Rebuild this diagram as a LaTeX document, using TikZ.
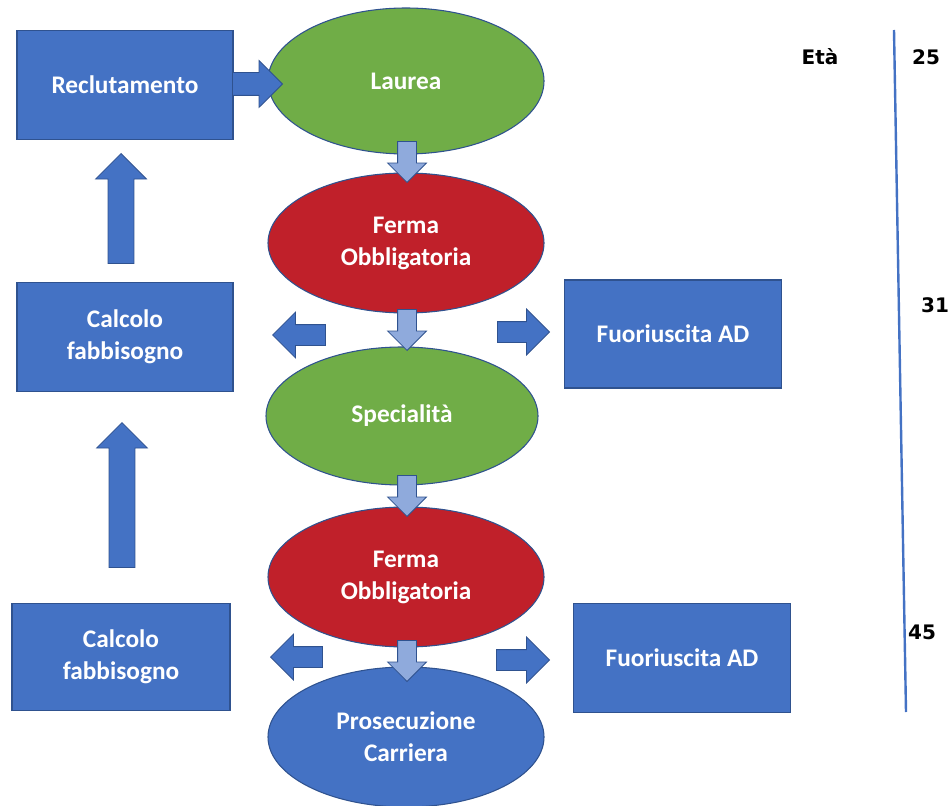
\documentclass[tikz,border=0pt]{standalone}
\usepackage{fontspec}
\setmainfont{Carlito}
\newfontfamily\agefont{DejaVu Sans}
\usetikzlibrary{shapes.geometric,shapes.arrows}

\definecolor{boxblue}{HTML}{4472C4}
\definecolor{edgeblue}{HTML}{2F528F}
\definecolor{ovalgreen}{HTML}{70AD47}
\definecolor{ovalred}{HTML}{C0202A}
\definecolor{lightblue}{HTML}{8FAADC}

\tikzset{
  box/.style={rectangle, draw=edgeblue, fill=boxblue, line width=0.8pt, text=white,
    font=\bfseries\fontsize{19}{24}\selectfont, align=center,
    minimum width=162pt, minimum height=82pt, inner sep=0pt},
  oval/.style={ellipse, draw=edgeblue, line width=0.8pt, text=white,
    font=\bfseries\fontsize{19}{24}\selectfont, align=center,
    minimum width=207pt, minimum height=105pt, inner sep=0pt},
  bigarrow/.style={single arrow, draw=edgeblue, fill=boxblue, line width=0.6pt,
    inner xsep=0pt, inner ysep=7.5pt, single arrow head extend=9.4pt, anchor=tip},
  smallarrow/.style={single arrow, draw=edgeblue, fill=lightblue, line width=0.6pt,
    inner xsep=0pt, inner ysep=6.75pt, minimum height=30.75pt,
    single arrow head extend=7.5pt, anchor=tip},
  agelabel/.style={font=\agefont\bfseries\fontsize{15}{18}\selectfont}
}

\begin{document}
\begin{tikzpicture}[x=0.75pt,y=-0.75pt]
\useasboundingbox (0,0) rectangle (950,806);

    % left column
    \node[box] (rec)   at (125,85)  {Reclutamento};
    \node[box] (calc1) at (125,337) {Calcolo\\fabbisogno};
    \node[box, minimum width=163.5pt, minimum height=80pt] (calc2) at (121,657) {Calcolo\\fabbisogno};

    % central path
    \node[oval, fill=ovalgreen, minimum height=109.5pt] (lau) at (406,81) {Laurea};
    \node[oval, fill=ovalred]   (fer1) at (406,243) {Ferma\\Obbligatoria};
    \node[oval, fill=ovalgreen, minimum width=204pt, minimum height=103.5pt] (spe) at (402,416) {Specialità};
    \node[oval, fill=ovalred]   (fer2) at (406,577) {Ferma\\Obbligatoria};
    \node[oval, fill=boxblue]   (pro)  at (406,737) {Prosecuzione\\Carriera};

    % right column
    \node[box, minimum width=162.75pt, minimum height=81pt] (fuo1) at (673,334) {Fuoriuscita AD};
    \node[box, minimum width=162.75pt, minimum height=82pt] (fuo2) at (682,658) {Fuoriuscita AD};

    % block arrows (placed by their tips)
    \node[bigarrow, minimum height=37.5pt, inner ysep=8.25pt, single arrow head extend=9pt] (arec) at (283,84) {};
    \node[bigarrow, rotate=90, minimum height=82.5pt, inner ysep=9.4pt] (aup1) at (121,153) {};
    \node[bigarrow, rotate=90, minimum height=108.75pt, inner ysep=9.4pt] (aup2) at (122,422) {};
    \node[bigarrow, rotate=180, minimum height=39.75pt] (al1) at (272,335) {};
    \node[bigarrow, minimum height=39pt] (ar1) at (550,332) {};
    \node[bigarrow, rotate=180, minimum height=39pt] (al2) at (270,657) {};
    \node[bigarrow, minimum height=39.75pt] (ar2) at (550,660) {};

    \node[smallarrow, rotate=-90] (ad1) at (407,183) {};
    \node[smallarrow, rotate=-90] (ad2) at (407,351) {};
    \node[smallarrow, rotate=-90] (ad3) at (407,517) {};
    \node[smallarrow, rotate=-90] (ad4) at (407,682) {};

    % age axis
    \coordinate (top) at (894,30);
    \coordinate (bot) at (906,712);
    \draw[boxblue, line width=1.8pt] (top) -- (bot);
    \node[agelabel] (eta) at (820,57)  {Età};
    \node[agelabel] (e25) at (926,57)  {25};
    \node[agelabel] (e31) at (935,305) {31};
    \node[agelabel] (e45) at (922,632) {45};

\end{tikzpicture}
\end{document}
